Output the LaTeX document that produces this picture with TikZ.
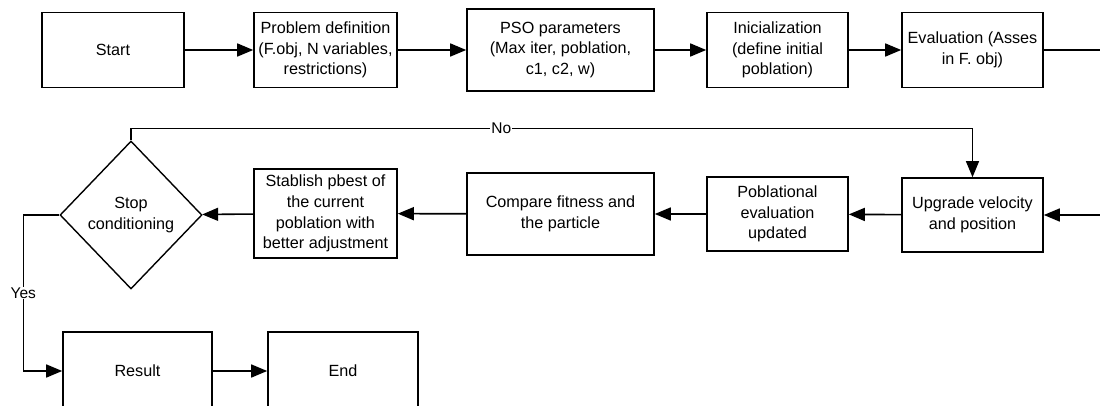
\documentclass[tikz,border=0pt]{standalone}
\usepackage{fontspec}
\setmainfont{Liberation Sans}
\usetikzlibrary{shapes.geometric,arrows.meta}

\tikzset{
    box/.style={draw, line width=1.6pt, align=center, inner sep=2pt, font=\fontsize{16.2}{20.8}\selectfont},
    flow/.style={line width=1.6pt, -{Triangle[length=16pt,width=13pt]}},
    tag/.style={fill=white, inner sep=1pt, font=\fontsize{15.5}{18}\selectfont},
}

\begin{document}
\begin{tikzpicture}[x=1pt,y=-1pt]
    \clip (0,0) rectangle (1100,406);

    % primera fila
    \node[box, minimum width=142pt, minimum height=75pt] (start) at (113,50) {Start};
    \node[box, minimum width=143pt, minimum height=75pt] (problem) at (325.5,50) {Problem definition\\(F.obj, N variables,\\restrictions)};
    \node[box, minimum width=187pt, minimum height=82pt] (pso) at (560.5,50) {PSO parameters\\(Max iter, poblation,\\c1, c2, w)};
    \node[box, minimum width=141pt, minimum height=75pt] (init) at (777.5,50) {Inicialization\\(define initial\\poblation)};
    \node[box, minimum width=141pt, minimum height=75pt] (eval) at (972.5,50) {Evaluation (Asses\\in F. obj)};
    \coordinate (outright) at (1100,50);

    \draw[flow] (start) -- (problem);
    \draw[flow] (problem) -- (pso);
    \draw[flow] (pso) -- (init);
    \draw[flow] (init) -- (eval);
    \draw[line width=1.6pt] (eval.east) -- (outright);

    % segunda fila
    \node[box, minimum width=141pt, minimum height=74pt] (upgrade) at (972.5,215) {Upgrade velocity\\and position};
    \node[box, minimum width=141pt, minimum height=74pt] (popeval) at (777.5,214) {Poblational\\evaluation\\updated};
    \node[box, minimum width=187pt, minimum height=82pt] (compare) at (560.5,214) {Compare fitness and\\the particle};
    \node[box, minimum width=143pt, minimum height=89pt] (pbest) at (325.5,213.5) {Stablish pbest of\\the current\\poblation with\\better adjustment};
    \node[box, diamond, line width=1.4pt, minimum width=142pt, minimum height=148pt, inner sep=0pt] (stop) at (131,215) {Stop\\conditioning};
    \coordinate (inright) at (1100,215);

    \draw[flow] (inright) -- (upgrade);
    \draw[flow] (upgrade) -- (popeval);
    \draw[flow] (popeval) -- (compare);
    \draw[flow] (compare) -- (pbest);
    \draw[flow] (pbest) -- (stop);

    % bucle No
    \draw[flow, line width=1.2pt] (stop.north) -- ++(0,-12) -| node[tag, pos=0.22] {No} (upgrade.north);

    % salida Yes
    \node[box, minimum width=149pt, minimum height=78pt] (result) at (137.5,371) {Result};
    \node[box, minimum width=150pt, minimum height=78pt] (finish) at (343,371) {End};

    \draw[flow] (stop.west) -- ++(-36,0) |- node[tag, pos=0.25] {Yes} (result.west);
    \draw[flow] (result) -- (finish);
\end{tikzpicture}
\end{document}
